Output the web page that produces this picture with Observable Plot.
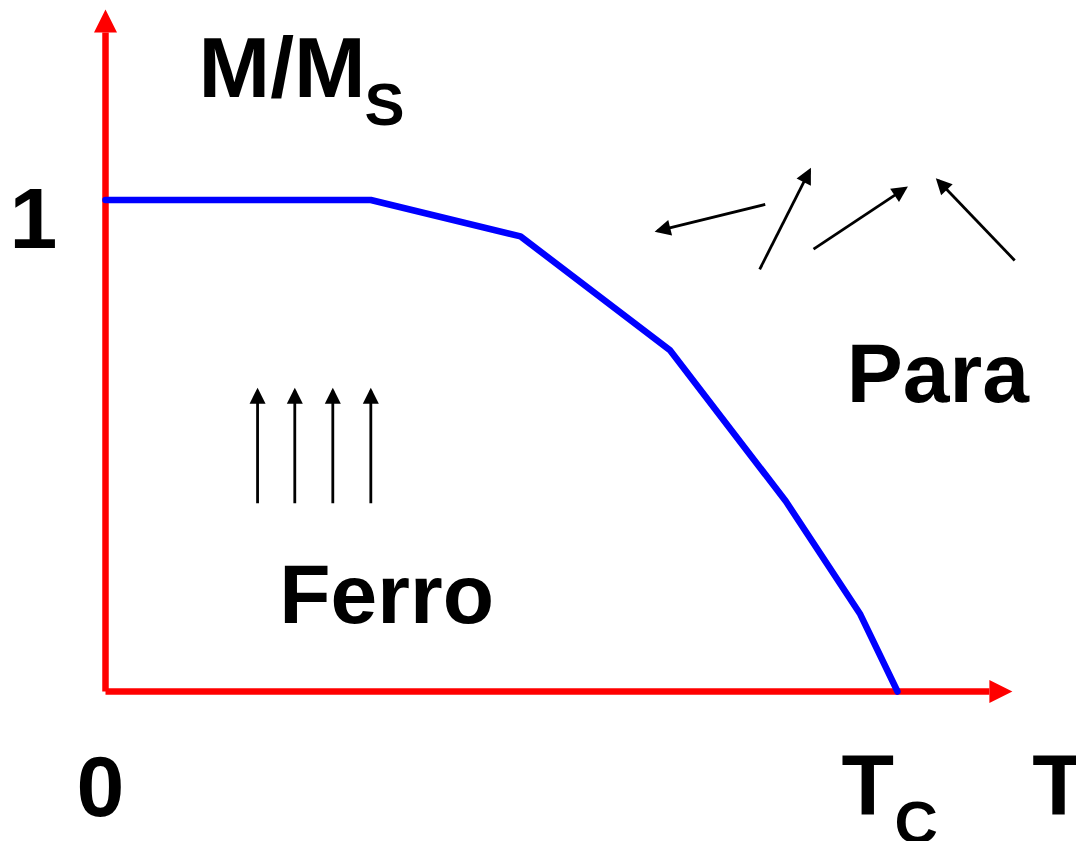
<!DOCTYPE html>
<html>
<head>
<meta charset="utf-8">
<script src="https://cdn.jsdelivr.net/npm/d3@7"></script>
<script src="https://cdn.jsdelivr.net/npm/@observablehq/plot@0.6"></script>
<style>
  html, body { margin: 0; padding: 0; background: #ffffff; }
  #chart svg { display: block; }
</style>
</head>
<body>
<div id="chart"></div>
<script>
// ---- data (T in units of Tc, M in units of Ms) ----
const temperature   = [0, 0.335, 0.524, 0.713, 0.859, 0.953, 1.0];
const magnetization = [1, 1, 0.926, 0.694, 0.387, 0.157, 0];

// axis extents (arrowhead bases)
const axisXEnd = 1.116;
const axisYEnd = 1.341;

// ferromagnetic spins (all aligned, pointing up)
const ferroSpinX = [0.192, 0.239, 0.287, 0.335];
const ferroSpinBottom = 0.383;
const ferroSpinTop = 0.612;

// paramagnetic spins (random directions)
const paraX1 = [0.833, 0.826, 0.894, 1.148];
const paraY1 = [0.991, 0.859, 0.900, 0.877];
const paraX2 = [0.697, 0.889, 1.010, 1.051];
const paraY2 = [0.937, 1.060, 1.024, 1.040];

// labels
const yTickLabels = [{value: 1, label: "1"}];
const originLabel = [{label: "0"}];
const tcLabel = [{value: 1, main: "T", sub: "C"}];
const xAxisLabel = "T";
const yAxisLabel = {main: "M/M", sub: "S"};
const phaseLabels = [
  {x: 0.355, y: 0.140, label: "Ferro"},
  {x: 1.051, y: 0.590, label: "Para"}
];

const curve = temperature.map((t, i) => ({t, m: magnetization[i]}));
const ferroSpins = ferroSpinX.map(x => ({x1: x, y1: ferroSpinBottom, x2: x, y2: ferroSpinTop}));
const paraSpins = paraX1.map((x, i) => ({x1: x, y1: paraY1[i], x2: paraX2[i], y2: paraY2[i]}));

function arrowHead(len, wid, ref) {
  return (color) => {
    const m = d3.create("svg:marker")
      .attr("viewBox", `0 ${-wid / 2} ${len} ${wid}`)
      .attr("markerUnits", "userSpaceOnUse")
      .attr("markerWidth", len)
      .attr("markerHeight", wid)
      .attr("refX", ref)
      .attr("refY", 0)
      .attr("orient", "auto")
      .attr("overflow", "visible");
    m.append("path")
      .attr("d", `M0,${-wid / 2}L${len},0L0,${wid / 2}Z`)
      .attr("fill", color)
      .attr("stroke", "none");
    return m.node();
  };
}

const bigFont = 86;
const subFont = 60;
const font = "'Liberation Sans', Arial, Helvetica, sans-serif";

const plot = Plot.plot({
  width: 1076,
  height: 841,
  marginLeft: 105,
  marginRight: 179,
  marginTop: 199.5,
  marginBottom: 150,
  style: {background: "#ffffff", fontFamily: font},
  x: {domain: [0, 1], axis: null},
  y: {domain: [0, 1], axis: null},
  marks: [
    // red axes with arrowheads
    Plot.link([{x1: 0, y1: 0, x2: axisXEnd, y2: 0}], {
      x1: "x1", y1: "y1", x2: "x2", y2: "y2",
      stroke: "#ff0000", strokeWidth: 6.5, markerEnd: arrowHead(23, 23, 0)
    }),
    Plot.link([{x1: 0, y1: 0, x2: 0, y2: axisYEnd}], {
      x1: "x1", y1: "y1", x2: "x2", y2: "y2",
      stroke: "#ff0000", strokeWidth: 6.5, markerEnd: arrowHead(23, 23, 0)
    }),
    // magnetization curve
    Plot.line(curve, {x: "t", y: "m", stroke: "#0000ff", strokeWidth: 6.5, strokeLinejoin: "miter"}),
    // spins
    Plot.link(ferroSpins, {
      x1: "x1", y1: "y1", x2: "x2", y2: "y2",
      stroke: "#000000", strokeWidth: 2.8, markerEnd: arrowHead(16, 16, 13)
    }),
    Plot.link(paraSpins, {
      x1: "x1", y1: "y1", x2: "x2", y2: "y2",
      stroke: "#000000", strokeWidth: 2.8, markerEnd: arrowHead(16, 16, 13)
    }),
    // tick labels
    Plot.text(yTickLabels, {
      x: () => 0, y: "value", text: "label", dx: -72, dy: 47.5,
      textAnchor: "middle", lineAnchor: "bottom",
      fontSize: bigFont, fontWeight: "bold", fill: "#000000"
    }),
    Plot.text(originLabel, {
      x: () => 0, y: () => 0, text: "label", dx: -5, dy: 124,
      textAnchor: "middle", lineAnchor: "bottom",
      fontSize: bigFont, fontWeight: "bold", fill: "#000000"
    }),
    Plot.text(tcLabel, {
      x: "value", y: () => 0, text: "main", dx: -56, dy: 122,
      textAnchor: "start", lineAnchor: "bottom",
      fontSize: bigFont, fontWeight: "bold", fill: "#000000"
    }),
    Plot.text(tcLabel, {
      x: "value", y: () => 0, text: "sub", dx: -3, dy: 151,
      textAnchor: "start", lineAnchor: "bottom",
      fontSize: subFont, fontWeight: "bold", fill: "#000000"
    }),
    // axis labels
    Plot.text([xAxisLabel], {
      x: () => axisXEnd, y: () => 0, text: d => d, dx: 43, dy: 122,
      textAnchor: "start", lineAnchor: "bottom",
      fontSize: bigFont, fontWeight: "bold", fill: "#000000"
    }),
    Plot.text([yAxisLabel], {
      x: () => 0, y: () => axisYEnd, text: "main", dx: 93, dy: 65,
      textAnchor: "start", lineAnchor: "bottom",
      fontSize: bigFont, fontWeight: "bold", fill: "#000000"
    }),
    Plot.text([yAxisLabel], {
      x: () => 0, y: () => axisYEnd, text: "sub", dx: 259, dy: 93,
      textAnchor: "start", lineAnchor: "bottom",
      fontSize: subFont, fontWeight: "bold", fill: "#000000"
    }),
    // phase labels
    Plot.text(phaseLabels, {
      x: "x", y: "y", text: "label",
      textAnchor: "middle", lineAnchor: "bottom",
      fontSize: 84, fontWeight: "bold", fill: "#000000"
    })
  ]
});

document.getElementById("chart").appendChild(plot);
</script>
</body>
</html>
